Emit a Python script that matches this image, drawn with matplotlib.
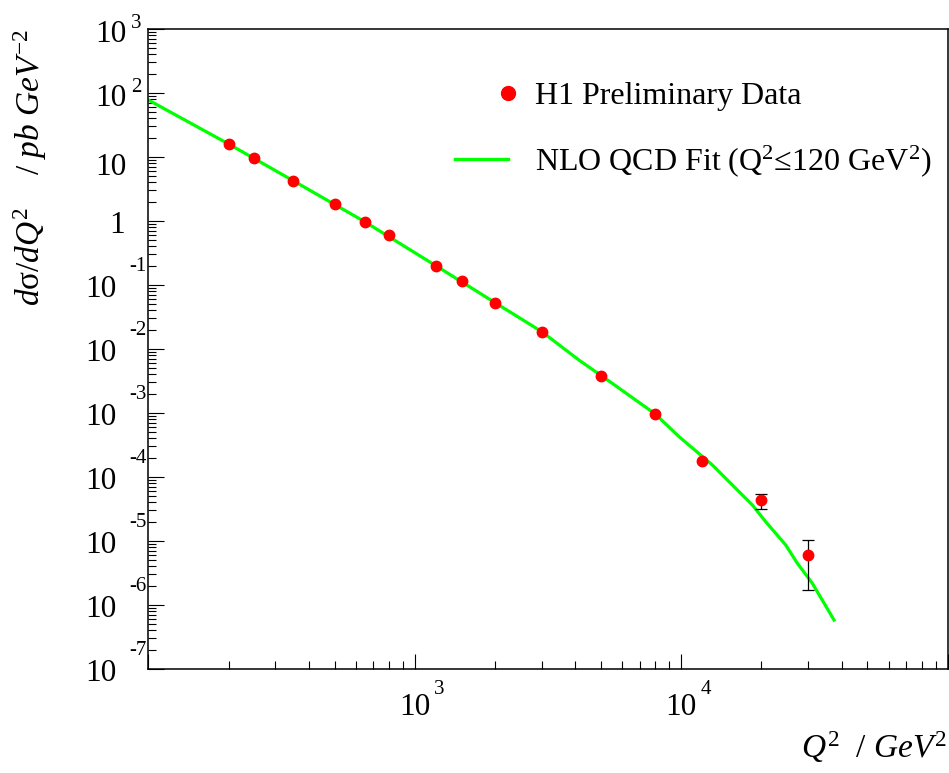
import numpy as np
import matplotlib
matplotlib.use('Agg')
import matplotlib.pyplot as plt
import matplotlib.transforms as mtransforms
from matplotlib.ticker import LogLocator, NullFormatter
from matplotlib.lines import Line2D
from matplotlib.legend_handler import HandlerLine2D

plt.rcParams['font.family'] = ['Liberation Serif', 'DejaVu Serif']
plt.rcParams['mathtext.fontset'] = 'custom'
plt.rcParams['mathtext.rm'] = 'Liberation Serif'
plt.rcParams['mathtext.it'] = 'Liberation Serif:italic'
plt.rcParams['mathtext.bf'] = 'Liberation Serif:bold'

# ---- data ----
q2 = [200, 250, 350, 500, 650, 800, 1200, 1500, 2000, 3000, 5000, 8000, 12000, 20000, 30000]
sigma = [15.8, 9.55, 4.22, 1.84, 0.965, 0.60, 0.198, 0.1155, 0.0523, 0.01845,
         0.00383, 9.55e-4, 1.80e-4, 4.37e-5, 6.04e-6]
err_lo = [0, 0, 0, 0, 0, 0, 0, 0, 0, 0, 0, 0, 0, 1.17e-5, 4.34e-6]
err_hi = [0, 0, 0, 0, 0, 0, 0, 0, 0, 0, 0, 0, 0, 1.05e-5, 4.46e-6]

fit_q2 = [100, 200, 350, 650, 1200, 2000, 3000, 4135, 5514, 8000, 9812, 13085,
          16240, 18490, 20750, 24660, 27280, 31050, 37440]
fit_sigma = [77.8, 16.0, 4.25, 0.97, 0.20, 0.053, 0.0186, 6.7e-3, 2.9e-3, 9.6e-4,
             4.27e-4, 1.54e-4, 6.26e-5, 3.65e-5, 2.0e-5, 8.66e-6, 4.48e-6, 2.18e-6, 5.83e-7]

y_decades = [3, 2, 1, 0, -1, -2, -3, -4, -5, -6, -7]
x_decades = [3, 4]

legend_labels = ['H1 Preliminary Data', r'NLO QCD Fit (Q$^{2}$≤120 GeV$^{2}$)']
xlabel = r'$Q^{2}\ \ /\ GeV^{2}$'
ylabel = r'$d\mathrm{\sigma}/dQ^{2}\ \ \ \ /\ pb\ GeV^{-2}$'

W, H = 949, 773
fig = plt.figure(figsize=(W / 100, H / 100), dpi=100)
L, R, T, B = 148.3, 947.7, 29, 669
ax = fig.add_axes([L / W, 1 - B / H, (R - L) / W, (B - T) / H])
ax.set_xscale('log')
ax.set_yscale('log')
ax.set_xlim(100, 1e5)
ax.set_ylim(1e-7, 1e3)

ax.plot(fit_q2, fit_sigma, color=(0, 1, 0), lw=2.3, zorder=2, solid_joinstyle='round')

q2a = np.array(q2); sa = np.array(sigma); lo = np.array(err_lo); hi = np.array(err_hi)
m = (lo > 0) | (hi > 0)
ax.errorbar(q2a[m], sa[m], yerr=[lo[m], hi[m]], fmt='none', ecolor='black',
            elinewidth=0.9, capsize=4.0, capthick=0.9, zorder=3)
ax.plot(q2, sigma, ls='none', marker='o', ms=7.5, color='red', mec='red', zorder=4)

for s in ax.spines.values():
    s.set_linewidth(1.1)
    s.set_color('black')

ax.xaxis.set_major_locator(LogLocator(base=10, numticks=20))
ax.xaxis.set_minor_locator(LogLocator(base=10, subs=np.arange(2, 10), numticks=100))
ax.yaxis.set_major_locator(LogLocator(base=10, numticks=20))
ax.yaxis.set_minor_locator(LogLocator(base=10, subs=np.arange(2, 10), numticks=100))
ax.xaxis.set_minor_formatter(NullFormatter())
ax.yaxis.set_minor_formatter(NullFormatter())
ax.tick_params(axis='both', which='both', direction='in', top=False, right=False,
               labelbottom=False, labelleft=False, width=0.8, color='black')
ax.tick_params(axis='x', which='major', length=10.8)
ax.tick_params(axis='x', which='minor', length=5.8)
ax.tick_params(axis='y', which='major', length=11.5)
ax.tick_params(axis='y', which='minor', length=5.8)

def off(dx, dy):
    return mtransforms.ScaledTranslation(dx / 100, -dy / 100, fig.dpi_scale_trans)

big, small = 22.5, 15
ty = mtransforms.blended_transform_factory(ax.transAxes, ax.transData)
for n in y_decades:
    v = 10.0 ** n
    if n == 0:
        ax.text(0, v, '1', fontsize=big, ha='right', va='baseline',
                transform=ty + off(125 - L, 12), clip_on=False)
    elif n == 1:
        ax.text(0, v, '10', fontsize=big, ha='right', va='baseline',
                transform=ty + off(127 - L, 18), clip_on=False)
    elif n > 1:
        ax.text(0, v, '10', fontsize=big, ha='right', va='baseline',
                transform=ty + off(127 - L, 13), clip_on=False)
        ax.text(0, v, str(n), fontsize=small, ha='left', va='baseline',
                transform=ty + off(131 - L, -1), clip_on=False)
    else:
        ax.text(0, v, '10', fontsize=big, ha='right', va='baseline',
                transform=ty + off(117 - L, 12), clip_on=False)
        ax.text(0, v, '-' + str(-n), fontsize=small, ha='right', va='baseline',
                transform=ty + off(147 - L, -14), clip_on=False)

tx = mtransforms.blended_transform_factory(ax.transData, ax.transAxes)
for n in x_decades:
    v = 10.0 ** n
    ax.text(v, 0, '10', fontsize=big, ha='center', va='baseline',
            transform=tx + off(0, 46), clip_on=False)
    ax.text(v, 0, str(n), fontsize=small, ha='left', va='baseline',
            transform=tx + off(19, 25), clip_on=False)

fig.text(947 / W, 1 - 758 / H, xlabel, fontsize=24, ha='right', va='baseline')
fig.text(30 / W, 1 - 29 / H, ylabel, fontsize=24, ha='center', va='top', rotation=90)


class RightMarker(HandlerLine2D):
    def create_artists(self, legend, orig_handle, xdescent, ydescent, width, height,
                       fontsize, trans):
        arts = super().create_artists(legend, orig_handle, xdescent, ydescent, width,
                                      height, fontsize, trans)
        for a in arts:
            xd = np.asarray(a.get_xdata(), dtype=float)
            a.set_xdata(np.full_like(xd, xd.max()))
        return arts


h_data = Line2D([], [], ls='none', marker='o', color='red', ms=10)
h_fit = Line2D([], [], color=(0, 1, 0), lw=2.4)
ax.legend([h_data, h_fit], legend_labels, handler_map={h_data: RightMarker(numpoints=1)},
          loc='upper left', bbox_to_anchor=(455 / W, 1 - 82 / H),
          bbox_transform=fig.transFigure, frameon=False, borderpad=0, borderaxespad=0,
          handlelength=1.65, handletextpad=0.85, labelspacing=1.0, fontsize=23)

fig.savefig('out.png', dpi=100)
